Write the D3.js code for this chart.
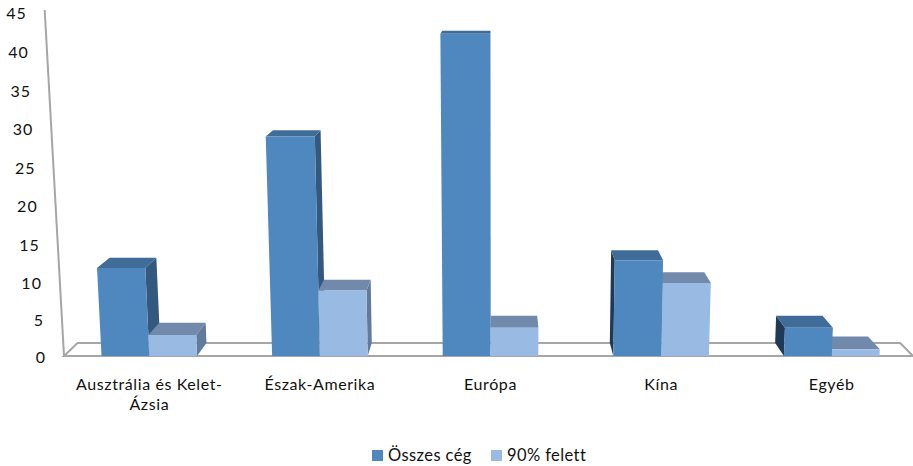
<!DOCTYPE html>
<html>
<head>
<meta charset="utf-8">
<script src="https://cdn.jsdelivr.net/npm/d3@7"></script>
<style>
  html, body { margin: 0; padding: 0; background: #fff; }
  text { font-family: Lato, sans-serif; fill: #111; }
</style>
</head>
<body>
<svg id="chart"></svg>
<script>
const categories = ['Ausztrália és Kelet-Ázsia', 'Észak-Amerika', 'Európa', 'Kína', 'Egyéb'];
const seriesNames = ['Összes cég', '90% felett'];
const osszes = [12, 29, 42, 13, 4];
const felett = [3, 9, 4, 10, 1];
const yTicks = [0, 5, 10, 15, 20, 25, 30, 35, 40, 45];

const width = 913;
const height = 466;
const floorY = 356;

// the view is a 3D box: depth pulls towards one point, uprights fan out with height
const vanishX = 500;
const vanishY = -63;
const depthShrink = 0.031;
const lean = 0.000128;

const palette = [
    {front: '#4f88bf', top: '#3f6c99', sideRight: '#34597f', sideLeft: '#203a55'},
    {front: '#99bae2', top: '#7189ab', sideRight: '#627b9c', sideLeft: '#506a8c'}
];

let svg = d3.select('#chart').attr('width', width).attr('height', height);

let xScale = d3.scaleBand()
    .domain(categories)
    .range([64, 917])
    .paddingInner(0.44)
    .paddingOuter(0.22);

// slightly stretched towards the top, same as the perspective of the value axis
let yScale = d3.scalePow()
    .exponent(1.035)
    .domain([0, 45])
    .range([floorY, 10]);

// the tick labels sit a little off the wall, on a flatter curve
let labelScale = yScale.copy().exponent(1.018);

// screen point for a base x, a value and a depth (0 = front, 1 = back)
let project = (x, value, depth) => {
    let y = yScale(value);
    let xFront = vanishX + (x - vanishX) * (1 + lean * (floorY - y));
    let s = 1 - depthShrink * depth;
    return [vanishX + (xFront - vanishX) * s, vanishY + (y - vanishY) * s];
};

let polyPath = (points) => d3.line()(points) + 'Z';

let drawFloor = () => {
    let corners = [project(64, 0, 0), project(64, 0, 1), project(913, 0, 1), project(913, 0, 0)];
    let wall = [project(64, 0, 0), project(64, 45, 0)];

    svg.append('path')
        .attr('d', polyPath(corners))
        .attr('fill', 'none')
        .attr('stroke', '#a6a6a6')
        .attr('stroke-width', 2);

    svg.append('path')
        .attr('d', d3.line()(wall))
        .attr('fill', 'none')
        .attr('stroke', '#a6a6a6')
        .attr('stroke-width', 2);
};

let drawBars = () => {
    let barWidth = xScale.bandwidth() / 2;
    let bars = [];

    categories.forEach((name, i) => {
        [osszes[i], felett[i]].forEach((value, s) => {
            let x0 = xScale(name) + s * barWidth;
            bars.push({x0: x0, x1: x0 + barWidth, value: value, colors: palette[s]});
        });
    });

    // outer bars first, so the ones nearer the middle cover their side faces
    bars.sort((a, b) => {
        return Math.abs(b.x0 + barWidth / 2 - vanishX) - Math.abs(a.x0 + barWidth / 2 - vanishX);
    });

    let bar = svg.append('g').selectAll('g').data(bars).enter().append('g').attr('class', 'bar');

    bar.filter((d) => d.x1 < vanishX)
        .append('path')
        .attr('fill', (d) => d.colors.sideRight)
        .attr('d', (d) => polyPath([
            project(d.x1, 0, 0), project(d.x1, d.value, 0),
            project(d.x1, d.value, 1), project(d.x1, 0, 1)
        ]));

    bar.filter((d) => d.x0 > vanishX)
        .append('path')
        .attr('fill', (d) => d.colors.sideLeft)
        .attr('d', (d) => polyPath([
            project(d.x0, 0, 0), project(d.x0, d.value, 0),
            project(d.x0, d.value, 1), project(d.x0, 0, 1)
        ]));

    bar.append('path')
        .attr('fill', (d) => d.colors.top)
        .attr('d', (d) => polyPath([
            project(d.x0, d.value, 0), project(d.x1, d.value, 0),
            project(d.x1, d.value, 1), project(d.x0, d.value, 1)
        ]));

    bar.append('path')
        .attr('fill', (d) => d.colors.front)
        .attr('d', (d) => polyPath([
            project(d.x0, 0, 0), project(d.x1, 0, 0),
            project(d.x1, d.value, 0), project(d.x0, d.value, 0)
        ]));
};

let drawAxes = () => {
    let yAxis = d3.axisLeft(labelScale).tickValues(yTicks).tickSize(0);
    let yGroup = svg.append('g').attr('id', 'y-axis').call(yAxis);

    yGroup.select('.domain').remove();
    yGroup.selectAll('.tick')
        .attr('transform', (d) => 'translate(' + (project(64, d, 0)[0] - 18) + ',' + (labelScale(d) + 2 + d * 0.04) + ')');
    yGroup.selectAll('text')
        .attr('x', 0)
        .style('font-family', 'Lato, sans-serif')
        .style('font-size', '16px')
        .style('letter-spacing', '1px');

    let xAxis = d3.axisBottom(xScale).tickSize(0);
    let xGroup = svg.append('g')
        .attr('id', 'x-axis')
        .attr('transform', 'translate(0,' + 379 + ')')
        .call(xAxis);

    xGroup.select('.domain').remove();
    xGroup.selectAll('text')
        .style('font-family', 'Lato, sans-serif')
        .style('font-size', '16px')
        .style('letter-spacing', '0.6px')
        .attr('y', 0)
        .attr('dy', '0.7em')
        .each(function (d) {
            // long names break after the hyphen
            let lines = d.length > 20 ? d.replace('-', '-\n').split('\n') : [d];
            let text = d3.select(this).text(null);
            lines.forEach((line, i) => {
                text.append('tspan')
                    .attr('x', 0)
                    .attr('dy', i === 0 ? '0.7em' : '20px')
                    .text(line);
            });
        });
};

let drawLegend = () => {
    let entries = [{x: 372, name: seriesNames[0]}, {x: 491, name: seriesNames[1]}];

    let item = svg.append('g').attr('id', 'legend')
        .selectAll('g').data(entries).enter().append('g')
        .attr('transform', (d) => 'translate(' + d.x + ',450)');

    item.append('rect')
        .attr('width', 11)
        .attr('height', 11)
        .attr('fill', (d, i) => palette[i].front);

    item.append('text')
        .attr('x', 16)
        .attr('y', 11)
        .style('font-size', '16.5px')
        .style('letter-spacing', '0.4px')
        .text((d) => d.name);
};

drawFloor();
drawBars();
drawAxes();
drawLegend();
</script>
</body>
</html>
